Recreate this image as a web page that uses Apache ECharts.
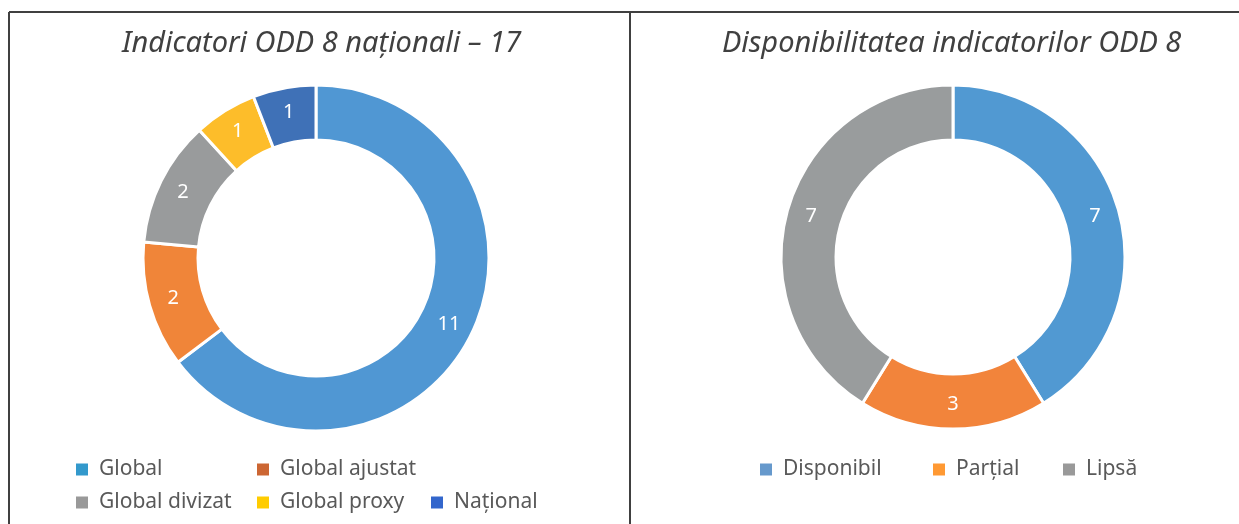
<!DOCTYPE html>
<html>
<head>
<meta charset="utf-8">
<script src="https://cdn.jsdelivr.net/npm/echarts@6/dist/echarts.min.js"></script>
<style>
  html, body { margin: 0; padding: 0; background: #fff; }
  #container { width: 1239px; height: 524px; }
</style>
</head>
<body>
<div id="container"></div>
<script>
// left donut
var tipNames = ['Global', 'Global ajustat', 'Global divizat', 'Global proxy', 'Național'];
var tipValues = [11, 2, 2, 1, 1];
var tipColors = ['#5097D3', '#F08539', '#999B9C', '#FDBD2A', '#3F71B7'];
var tipLegendColors = ['#3399CC', '#CC6633', '#999999', '#FFCC00', '#3366CC'];

// right donut
var dispNames = ['Disponibil', 'Parțial', 'Lipsă'];
var dispValues = [7, 3, 7];
var dispColors = ['#5199D2', '#F2843B', '#999C9D'];
var dispLegendColors = ['#6699CC', '#FF9933', '#999999'];

var titleLeft = 'Indicatori ODD 8 naționali – 17';
var titleRight = 'Disponibilitatea indicatorilor ODD 8';

var dom = document.getElementById('container');
var myChart = echarts.init(dom);
var font = 'Noto Sans';

function pieData(names, values, colors) {
    var out = [];
    for (var i = 0; i < names.length; i++) {
        out.push({ name: names[i], value: values[i], itemStyle: { color: colors[i] } });
    }
    return out;
}

function legendBox(names, colors, idx, left, top, orient) {
    var data = [];
    for (var k = 0; k < idx.length; k++) {
        data.push({ name: names[idx[k]], itemStyle: { color: colors[idx[k]] } });
    }
    return {
        orient: orient || 'horizontal',
        left: left,
        top: top,
        padding: 0,
        itemWidth: 14,
        itemHeight: 14,
        itemGap: 12,
        icon: 'rect',
        selectedMode: false,
        textStyle: { fontFamily: font, fontSize: 21, color: '#595959', padding: [0, 0, 0, 5] },
        data: data
    };
}

var titleStyle = { fontFamily: font, fontStyle: 'italic', fontWeight: 'normal', fontSize: 29, color: '#404040' };

var option = {
    animation: false,
    title: [{
        text: titleLeft,
        left: 122,
        top: 29,
        padding: 0,
        textStyle: titleStyle
    }, {
        text: titleRight,
        left: 722,
        top: 29,
        padding: 0,
        textStyle: titleStyle
    }],
    legend: [
        legendBox(tipNames, tipLegendColors, [0, 2], 74, 459, 'vertical'),
        legendBox(tipNames, tipLegendColors, [1, 3], 255, 459, 'vertical'),
        legendBox(tipNames, tipLegendColors, [4], 429, 492),
        legendBox(dispNames, dispLegendColors, [0], 758, 459),
        legendBox(dispNames, dispLegendColors, [1], 931, 459),
        legendBox(dispNames, dispLegendColors, [2], 1061, 459)
    ],
    graphic: [
        { type: 'line', shape: { x1: 9, y1: 12, x2: 1239, y2: 12 }, style: { stroke: '#404040', lineWidth: 2 } },
        { type: 'line', shape: { x1: 9, y1: 12, x2: 9, y2: 524 }, style: { stroke: '#404040', lineWidth: 2 } },
        { type: 'line', shape: { x1: 630, y1: 12, x2: 630, y2: 524 }, style: { stroke: '#404040', lineWidth: 2 } }
    ],
    series: [{
        name: 'tip',
        type: 'pie',
        center: [316, 258],
        radius: [118, 173],
        startAngle: 90,
        clockwise: true,
        avoidLabelOverlap: false,
        itemStyle: { borderColor: '#fff', borderWidth: 3 },
        label: { show: true, position: 'inside', formatter: '{c}', color: '#fff', fontFamily: font, fontSize: 20 },
        labelLine: { show: false },
        emphasis: { disabled: true },
        data: pieData(tipNames, tipValues, tipColors)
    }, {
        name: 'disp',
        type: 'pie',
        center: [953, 257],
        radius: [117, 172],
        startAngle: 90,
        clockwise: true,
        avoidLabelOverlap: false,
        itemStyle: { borderColor: '#fff', borderWidth: 3 },
        label: { show: true, position: 'inside', formatter: '{c}', color: '#fff', fontFamily: font, fontSize: 20 },
        labelLine: { show: false },
        emphasis: { disabled: true },
        data: pieData(dispNames, dispValues, dispColors)
    }]
};

if (option && typeof option === 'object') {
    myChart.setOption(option, true);
}
</script>
</body>
</html>
